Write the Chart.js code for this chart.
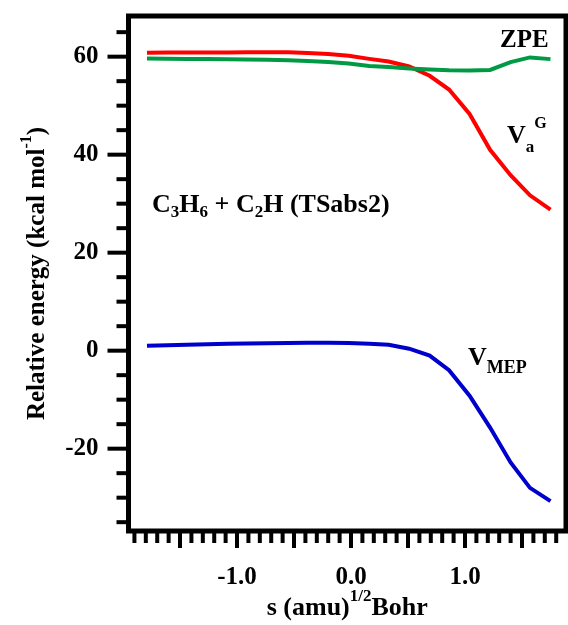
<!DOCTYPE html>
<html>
<head>
<meta charset="utf-8">
<script src="https://cdn.jsdelivr.net/npm/chart.js@4.4.1/dist/chart.umd.min.js"></script>
<style>
    html, body { margin: 0; padding: 0; background: #fff; }
    canvas { display: block; }
</style>
</head>
<body>
<canvas id="chart" width="568" height="625"></canvas>
<script>
// Reaction coordinate s (amu^1/2 Bohr)
const sValues = [-1.79, -1.61, -1.44, -1.26, -1.08, -0.91, -0.73, -0.55, -0.38, -0.20, -0.02,
    0.16, 0.33, 0.51, 0.69, 0.86, 1.04, 1.22, 1.40, 1.57, 1.75];

// Energies (kcal/mol)
const vMep = [1.0, 1.1, 1.2, 1.3, 1.4, 1.45, 1.5, 1.55, 1.6, 1.6, 1.55,
    1.4, 1.2, 0.4, -1.0, -4.0, -9.2, -15.7, -22.8, -28.0, -30.7];
const vaG = [60.8, 60.85, 60.85, 60.85, 60.85, 60.9, 60.9, 60.9, 60.75, 60.55, 60.2,
    59.55, 59.0, 58.0, 56.1, 53.3, 48.3, 41.0, 35.8, 31.7, 28.8];
const zpe = [59.65, 59.6, 59.55, 59.5, 59.45, 59.4, 59.35, 59.25, 59.1, 58.9, 58.6,
    58.1, 57.9, 57.6, 57.4, 57.25, 57.2, 57.3, 58.9, 59.85, 59.5];

const xTickLabels = [-1.0, 0.0, 1.0];
const yTickLabels = [-20, 0, 20, 40, 60];

const FONT = "'Liberation Serif', 'Times New Roman', serif";

function toPoints(ys) {
    return sValues.map((s, i) => ({ x: s, y: ys[i] }));
}

// Draws a run of text pieces, each with its own size and vertical shift
function drawRich(ctx, parts, x, y) {
    let cx = x;
    parts.forEach(p => {
        ctx.font = `bold ${p.size}px ${FONT}`;
        ctx.fillText(p.t, cx, y + (p.dy || 0));
        cx += ctx.measureText(p.t).width + (p.gap || 0);
    });
    return cx - x;
}

function richWidth(ctx, parts) {
    let w = 0;
    parts.forEach(p => {
        ctx.font = `bold ${p.size}px ${FONT}`;
        w += ctx.measureText(p.t).width + (p.gap || 0);
    });
    return w;
}

const framePlugin = {
    id: 'frame',
    afterDraw(chart) {
        const { ctx, chartArea: a, scales: { x, y } } = chart;
        ctx.save();
        ctx.strokeStyle = '#000';
        ctx.fillStyle = '#000';

        // frame
        ctx.lineWidth = 5;
        ctx.strokeRect(a.left, a.top, a.right - a.left, a.bottom - a.top);

        // y ticks, outside on the left
        ctx.lineWidth = 4;
        for (let v = -35; v <= 65; v += 5) {
            const py = y.getPixelForValue(v);
            const len = v % 20 === 0 ? 21 : 12;
            ctx.beginPath();
            ctx.moveTo(a.left - len, py);
            ctx.lineTo(a.left, py);
            ctx.stroke();
        }
        // x ticks, below the frame
        for (let i = -19; i <= 18; i++) {
            const px = x.getPixelForValue(i / 10);
            const len = i % 5 === 0 ? 17 : 12;
            ctx.beginPath();
            ctx.moveTo(px, a.bottom);
            ctx.lineTo(px, a.bottom + len);
            ctx.stroke();
        }

        // axis titles
        ctx.textAlign = 'left';
        ctx.textBaseline = 'alphabetic';
        const xt = [
            { t: 's (amu)', size: 26 },
            { t: '1/2', size: 17, dy: -14 },
            { t: 'Bohr', size: 26 }
        ];
        const xw = richWidth(ctx, xt);
        drawRich(ctx, xt, (a.left + a.right) / 2 - xw / 2, 615);

        const yt = [
            { t: 'Relative energy (kcal mol', size: 25 },
            { t: '-1', size: 16, dy: -13 },
            { t: ')', size: 25 }
        ];
        const yw = richWidth(ctx, yt);
        ctx.translate(44, (a.top + a.bottom) / 2);
        ctx.rotate(-Math.PI / 2);
        drawRich(ctx, yt, -yw / 2, 0);
        ctx.restore();

        // curve labels
        ctx.save();
        ctx.fillStyle = '#000';
        ctx.textAlign = 'left';
        ctx.textBaseline = 'alphabetic';
        drawRich(ctx, [{ t: 'ZPE', size: 25 }], x.getPixelForValue(1.307), y.getPixelForValue(62.05));
        drawRich(ctx, [
            { t: 'V', size: 26 },
            { t: 'a', size: 17, dy: 9 },
            { t: 'G', size: 16, dy: -15 }
        ], x.getPixelForValue(1.368), y.getPixelForValue(42.3));
        drawRich(ctx, [
            { t: 'V', size: 26 },
            { t: 'MEP', size: 18, dy: 8 }
        ], x.getPixelForValue(1.026), y.getPixelForValue(-3.0));
        drawRich(ctx, [
            { t: 'C', size: 26 },
            { t: '3', size: 17, dy: 5 },
            { t: 'H', size: 26 },
            { t: '6', size: 17, dy: 5 },
            { t: ' + C', size: 26 },
            { t: '2', size: 17, dy: 5 },
            { t: 'H (TSabs2)', size: 26 }
        ], x.getPixelForValue(-1.745), y.getPixelForValue(28.3));
        ctx.restore();
    }
};

new Chart(document.getElementById('chart'), {
    type: 'line',
    data: {
        datasets: [{
            label: 'ZPE',
            data: toPoints(zpe),
            borderColor: '#009a44',
            borderWidth: 4
        }, {
            label: 'VaG',
            data: toPoints(vaG),
            borderColor: '#ff0000',
            borderWidth: 4
        }, {
            label: 'VMEP',
            data: toPoints(vMep),
            borderColor: '#0000cc',
            borderWidth: 4
        }]
    },
    options: {
        responsive: false,
        animation: false,
        events: [],
        elements: { point: { radius: 0 }, line: { tension: 0 } },
        layout: { padding: { left: 0, top: 16, right: 2, bottom: 0 } },
        plugins: { legend: { display: false }, tooltip: { enabled: false } },
        scales: {
            x: {
                type: 'linear',
                min: -1.952,
                max: 1.886,
                grid: { display: false, drawTicks: false },
                border: { display: false },
                afterFit: s => { s.height = 94; s.paddingLeft = 0; s.paddingRight = 0; },
                afterBuildTicks: s => { s.ticks = xTickLabels.map(v => ({ value: v })); },
                ticks: {
                    padding: 32,
                    color: '#000',
                    font: { family: FONT, size: 25, weight: 'bold' },
                    callback: v => v.toFixed(1)
                }
            },
            y: {
                min: -36.8,
                max: 68.3,
                grid: { display: false, drawTicks: false },
                border: { display: false },
                afterFit: s => { s.width = 128.5; s.paddingTop = 0; s.paddingBottom = 0; },
                afterBuildTicks: s => { s.ticks = yTickLabels.map(v => ({ value: v })); },
                ticks: {
                    padding: 30,
                    color: '#000',
                    font: { family: FONT, size: 25, weight: 'bold' }
                }
            }
        }
    },
    plugins: [framePlugin]
});
</script>
</body>
</html>
